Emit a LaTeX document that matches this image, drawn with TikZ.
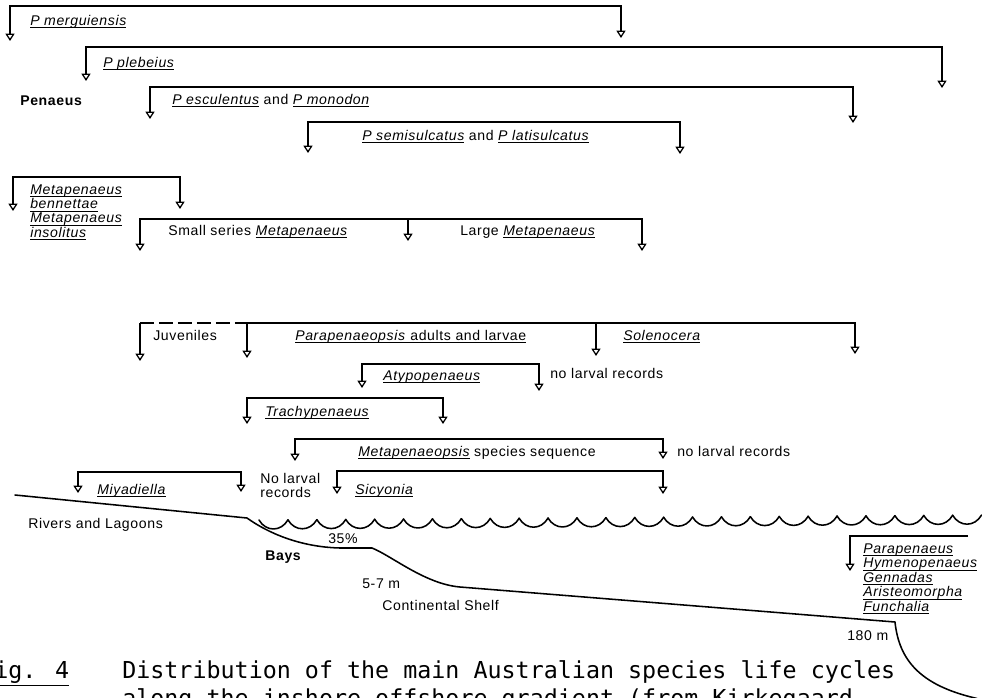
\documentclass[tikz,border=0pt]{standalone}
\usepackage{fontspec}
\newfontfamily\labfont{Liberation Sans}[LetterSpace=4.5]
\newfontfamily\capfont{DejaVu Sans Mono}
\usetikzlibrary{arrows.meta}
\newcommand\ruled[1]{\leavevmode\setbox0\hbox{#1}\rlap{\rule[-2.2pt]{\wd0}{0.7pt}}\box0\relax}
\newcommand\taxon[1]{\ruled{\itshape #1}}
\tikzset{
    lab/.style={font=\labfont\fontsize{10}{12}\selectfont, inner sep=0pt, anchor=base west},
    captext/.style={font=\capfont\fontsize{16.6}{20}\selectfont, inner sep=0pt, anchor=base west},
    twig/.style={<->, line width=1.1pt},
    drop/.style={->, line width=1.1pt},
    seabed/.style={line width=1.1pt, line join=round, line cap=round},
}

\begin{document}
\begin{tikzpicture}[x=0.025cm, y=-0.025cm, >={Triangle[open,width=6.4pt,length=5.2pt,line width=0.9pt]}]
\useasboundingbox (0,0) rectangle (982,698);
\clip (0,0) rectangle (982,698);

\draw[twig] (10,41) |- (621,6) -- (621,38);
\draw[twig] (86,81) |- (942,47) -- (942,88);
\draw[twig] (150,119) |- (853,87) -- (853,123);
\draw[twig] (308,153) |- (680,122) -- (680,154);
\draw[twig] (13,211) |- (180,177) -- (180,209);
\draw[twig] (140,251) |- (642,219) -- (642,251);
\draw[drop] (408,219) -- (408,241);
\draw[drop] (140,323) -- (140,361);
\draw[line width=1.1pt, dash pattern=on 10pt off 3.5pt] (140,323) -- (247,323);
\draw[twig] (247,358) |- (855,323) -- (855,354);
\draw[drop] (596,323) -- (596,356);
\draw[twig] (362,388) |- (539,364) -- (539,391);
\draw[twig] (247,424) |- (443,398) -- (443,424);
\draw[twig] (295,461) |- (663,439) -- (663,459);
\draw[twig] (337,494) |- (663,471) -- (663,494);
\draw[twig] (78,493) |- (241,472) -- (241,492);
\draw[drop] (968,536) -| (850,571);

\node[lab] (merg) at (30,25) {\taxon{P merguiensis}};
\node[lab] (pleb) at (103,67) {\taxon{P plebeius}};
\node[lab] (penaeus) at (20,105) {\bfseries Penaeus};
\node[lab] (escu) at (172,104) {\taxon{P esculentus} and \taxon{P monodon}};
\node[lab] (semi) at (362,140) {\taxon{P semisulcatus} and \taxon{P latisulcatus}};
\foreach \t [count=\i] in {Metapenaeus,bennettae,Metapenaeus,insolitus}
    \node[lab] (meta\i) at (30,{180+14.3*\i}) {\taxon{\t}};
\node[lab] (small) at (168,235) {Small series \taxon{Metapenaeus}};
\node[lab] (large) at (460,235) {Large \taxon{Metapenaeus}};
\node[lab] (juv) at (153,340) {Juveniles};
\node[lab] (parpen) at (295,340) {\ruled{\textit{Parapenaeopsis} adults and larvae}};
\node[lab] (solen) at (623,340) {\taxon{Solenocera}};
\node[lab] (atypo) at (383,380) {\taxon{Atypopenaeus}};
\node[lab] (nolarA) at (550,378) {no larval records};
\node[lab] (trachy) at (265,416) {\taxon{Trachypenaeus}};
\node[lab] (metops) at (358,456) {\taxon{Metapenaeopsis} species sequence};
\node[lab] (nolarB) at (677,456) {no larval records};
\node[lab] (nolarC) at (260,483) {No larval};
\node[lab] (nolarD) at (260,497) {records};
\node[lab] (miya) at (97,494) {\taxon{Miyadiella}};
\node[lab] (sicy) at (355,494) {\taxon{Sicyonia}};
\foreach \t [count=\i] in {Parapenaeus,Hymenopenaeus,Gennadas,Aristeomorpha,Funchalia}
    \node[lab] (deep\i) at (863,{538.5+14.5*\i}) {\taxon{\t}};

\draw[seabed] (15,495) -- (247,518) .. controls (268,533) and (300,547) .. (340,548) -- (372,548)
    .. controls (392,556) and (425,584) .. (460,587) -- (895,622)
    .. controls (899,660) and (920,685) .. (975,698) -- (995,704);
\foreach \k in {0,...,24}
    \draw[seabed] ({259+28.9*\k},{520-0.2*\k}) .. controls ({266+28.9*\k},{532-0.2*\k}) and ({281+28.9*\k},{532-0.2*\k}) .. ({288+28.9*\k},{520-0.2*(\k+1)});

\node[lab] (rivers) at (28,528) {Rivers and Lagoons};
\node[lab] (salin) at (328,543) {35\%};
\node[lab] (bays) at (265,560) {\bfseries Bays};
\node[lab] (depA) at (362,588) {5-7 m};
\node[lab] (shelf) at (382,610) {Continental Shelf};
\node[lab] (depB) at (847,640) {180 m};

\node[captext] (fig) at (-20,678) {\underline{Fig. 4}};
\node[captext] (capA) at (122,678) {Distribution of the main Australian species life cycles};
\node[captext] (capB) at (122,706) {along the inshore-offshore gradient (from Kirkegaard};
\end{tikzpicture}
\end{document}
